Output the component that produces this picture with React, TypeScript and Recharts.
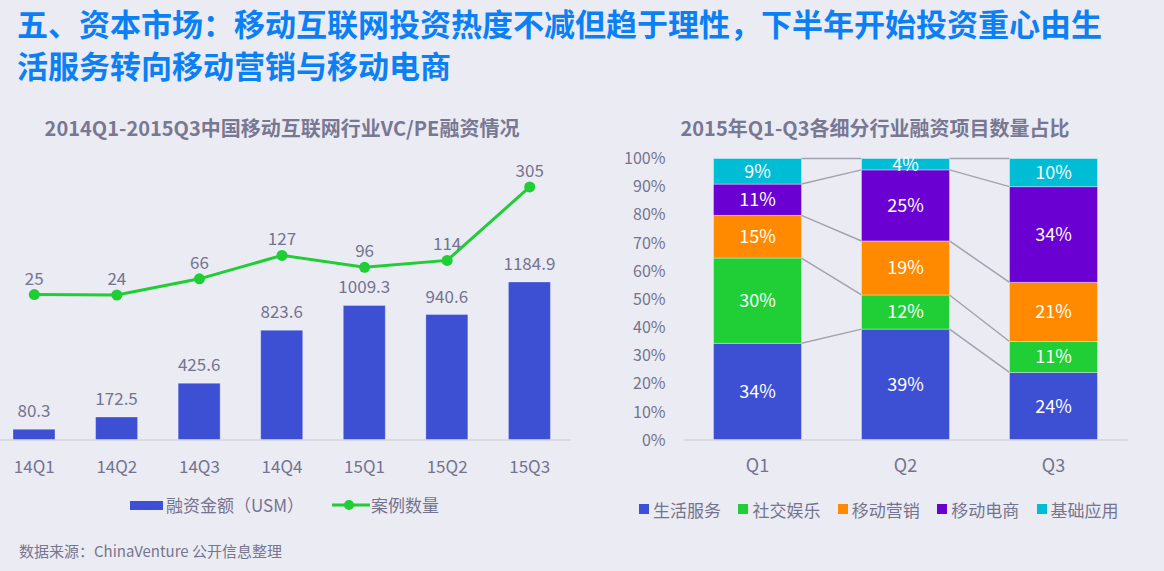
import React from 'react';
import {
  ComposedChart, BarChart, Bar, Line, XAxis, YAxis, LabelList, Legend,
} from 'recharts';

// ---------- Data: left chart ----------
const periods = ['14Q1', '14Q2', '14Q3', '14Q4', '15Q1', '15Q2', '15Q3'];
const amounts = [80.3, 172.5, 425.6, 823.6, 1009.3, 940.6, 1184.9];
const dealCounts = [25, 24, 66, 127, 96, 114, 305];

// ---------- Data: right chart ----------
const quarters = ['Q1', 'Q2', 'Q3'];
const lifeService = [34, 39, 24];
const socialEnt = [30, 12, 11];
const mobileMarketing = [15, 19, 21];
const mobileEcommerce = [11, 25, 34];
const basicApps = [9, 4, 10];
const percentTicks = [0, 0.1, 0.2, 0.3, 0.4, 0.5, 0.6, 0.7, 0.8, 0.9, 1];

const FONT = "'Noto Sans CJK SC', 'Noto Sans', sans-serif";
const BG = '#EBEBF3';
const GRAY_TEXT = '#74748F';
const BLUE = '#3D4FD3';
const GREEN = '#1FCD34';

const seriesDefs = [
  { key: '生活服务', values: lifeService, color: '#3D4FD3' },
  { key: '社交娱乐', values: socialEnt, color: '#1FCF35' },
  { key: '移动营销', values: mobileMarketing, color: '#FF8A00' },
  { key: '移动电商', values: mobileEcommerce, color: '#6A00D2' },
  { key: '基础应用', values: basicApps, color: '#00BDD6' },
];

const leftData = periods.map((p, i) => ({ period: p, amount: amounts[i], count: dealCounts[i] }));
const rightData = quarters.map((q, i) => {
  const row: any = { quarter: q };
  seriesDefs.forEach((s) => { row[s.key] = s.values[i]; });
  return row;
});

// ---------- Right chart layout ----------
const R_Y_WIDTH = 83.5;
const R_PLOT_W = 444;
const R_BAND = R_PLOT_W / quarters.length;

const total = (i: number) => seriesDefs.reduce((a, s) => a + s.values[i], 0);
const cum = (i: number, k: number) => {
  if (k < 0) return 0;
  let s = 0;
  for (let j = 0; j <= k; j++) s += seriesDefs[j].values[i];
  return s / total(i);
};

const makeShape = (k: number) => (props: any) => {
  const { x, y, width, height, index, fill } = props;
  const c0 = cum(index, k - 1);
  const c1 = cum(index, k);
  const plotH = height / (c1 - c0);
  const bottom = y + height + c0 * plotH;
  let connector = null;
  if (index < quarters.length - 1) {
    const nextY = bottom - cum(index + 1, k) * plotH;
    connector = (
      <line x1={x + width} y1={y} x2={x + R_BAND} y2={nextY} stroke="#A3A3AE" strokeWidth={1.5} />
    );
  }
  return (
    <g>
      <rect x={x} y={y} width={width} height={height} fill={fill} stroke="rgba(255,255,255,0.35)" strokeWidth={1} />
      {connector}
    </g>
  );
};

const LeftLegend = () => (
  <div style={{ display: 'flex', alignItems: 'center', paddingLeft: 137, paddingTop: 15, fontFamily: FONT, fontSize: 17, color: GRAY_TEXT, lineHeight: '20px' }}>
    <span style={{ display: 'inline-block', width: 33, height: 9, background: BLUE, marginRight: 3, flexShrink: 0 }} />
    <span style={{ marginRight: 28, flexShrink: 0 }}>融资金额（USM）</span>
    <svg width={38} height={12} style={{ marginRight: 1, flexShrink: 0 }}>
      <line x1={0} y1={6} x2={38} y2={6} stroke={GREEN} strokeWidth={3} />
      <circle cx={17} cy={6} r={5} fill={GREEN} />
    </svg>
    <span style={{ flexShrink: 0 }}>案例数量</span>
  </div>
);

const RightLegend = () => (
  <div style={{ display: 'flex', alignItems: 'center', paddingLeft: 39, paddingTop: 20, fontFamily: FONT, fontSize: 17, color: GRAY_TEXT, lineHeight: '20px', whiteSpace: 'nowrap' }}>
    {seriesDefs.map((s) => (
      <div key={s.key} style={{ display: 'flex', alignItems: 'center', width: 99.4, flexShrink: 0 }}>
        <span style={{ display: 'inline-block', width: 10, height: 10, background: s.color, marginRight: 4, marginTop: -3, flexShrink: 0 }} />
        <span>{s.key}</span>
      </div>
    ))}
  </div>
);

const titleStyle: React.CSSProperties = {
  position: 'absolute', left: 17, fontSize: 31, fontWeight: 700, lineHeight: '45px',
  color: '#0B80F5', whiteSpace: 'nowrap',
};

export default function App() {
  return (
    <div style={{ position: 'absolute', left: 0, top: 0, width: 1164, height: 571, background: BG, overflow: 'hidden', fontFamily: FONT }}>
      <div style={{ ...titleStyle, top: 0 }}>五、资本市场：移动互联网投资热度不减但趋于理性，下半年开始投资重心由生</div>
      <div style={{ ...titleStyle, top: 42 }}>活服务转向移动营销与移动电商</div>

      <div style={{ position: 'absolute', left: 0, top: 116, width: 564, textAlign: 'center', fontSize: 20, fontWeight: 700, lineHeight: '24px', color: '#787893' }}>
        2014Q1-2015Q3中国移动互联网行业VC/PE融资情况
      </div>
      <div style={{ position: 'absolute', left: 675, top: 116, width: 400, textAlign: 'center', fontSize: 20, fontWeight: 700, lineHeight: '24px', color: '#787893' }}>
        2015年Q1-Q3各细分行业融资项目数量占比
      </div>

      <div style={{ position: 'absolute', left: -7, top: 140 }}>
        <ComposedChart width={578} height={385} data={leftData} margin={{ top: 20, right: 0, bottom: 0, left: 0 }}>
          <XAxis dataKey="period" tickLine={false} tickSize={0} tickMargin={21} height={40}
            axisLine={{ stroke: '#D4D4DC', strokeWidth: 1.5 }}
            tick={{ fill: GRAY_TEXT, fontSize: 17, fontFamily: FONT }} />
          <YAxis yAxisId="amt" hide domain={[0, 2100]} />
          <YAxis yAxisId="cnt" orientation="right" hide domain={[-353, 375]} />
          <Legend verticalAlign="bottom" height={45} content={() => <LeftLegend />} />
          <Bar yAxisId="amt" dataKey="amount" barSize={42} fill={BLUE} stroke="rgba(255,255,255,0.3)" isAnimationActive={false}>
            <LabelList dataKey="amount" position="top" offset={12} fill={GRAY_TEXT} fontSize={17} fontFamily={FONT} />
          </Bar>
          <Line yAxisId="cnt" dataKey="count" type="linear" stroke={GREEN} strokeWidth={3}
            dot={{ r: 5.5, fill: GREEN, stroke: GREEN, strokeWidth: 0 }} activeDot={false} isAnimationActive={false}>
            <LabelList dataKey="count" position="top" offset={10} fill={GRAY_TEXT} fontSize={17} fontFamily={FONT} />
          </Line>
        </ComposedChart>
      </div>

      <div style={{ position: 'absolute', left: 600, top: 140 }}>
        <BarChart width={R_Y_WIDTH + R_PLOT_W} height={390} data={rightData} stackOffset="expand"
          margin={{ top: 18.5, right: 0, bottom: 0, left: 0 }}>
          <XAxis dataKey="quarter" tickLine={false} tickSize={0} tickMargin={19.6} height={40}
            axisLine={{ stroke: '#D4D4DC', strokeWidth: 1.5 }}
            tick={{ fill: GRAY_TEXT, fontSize: 18, fontFamily: FONT }} />
          <YAxis width={R_Y_WIDTH} domain={[0, 1]} ticks={percentTicks} tickLine={false} axisLine={false}
            tickSize={0} tickMargin={18} interval={0}
            tickFormatter={(v: number) => `${Math.round(v * 100)}%`}
            tick={{ fill: GRAY_TEXT, fontSize: 16, fontFamily: FONT }} />
          <Legend verticalAlign="bottom" height={50} content={() => <RightLegend />} />
          {seriesDefs.map((s, k) => (
            <Bar key={s.key} dataKey={s.key} stackId="a" fill={s.color} barSize={88}
              shape={makeShape(k)} isAnimationActive={false}>
              <LabelList dataKey={s.key} position="center" fill="#FFFFFF" fontSize={18} fontFamily={FONT}
                formatter={(v: any) => `${v}%`} />
            </Bar>
          ))}
        </BarChart>
      </div>

      <div style={{ position: 'absolute', left: 19, top: 541, fontSize: 15, lineHeight: '20px', color: '#76768F', whiteSpace: 'nowrap' }}>
        数据来源：ChinaVenture 公开信息整理
      </div>
    </div>
  );
}
